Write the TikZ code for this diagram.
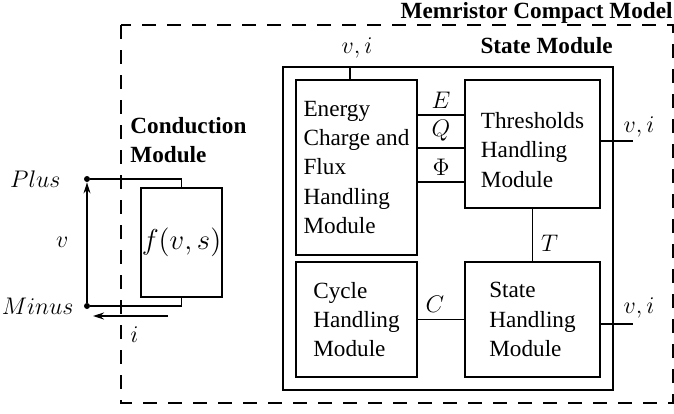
\documentclass[tikz,border=0pt]{standalone}
\usepackage{fontspec}
\setmainfont{Liberation Serif}
\usepackage{tikz}
\usetikzlibrary{arrows.meta, positioning, calc}

\begin{document}
\begin{tikzpicture}[x=0.5pt, y=-0.5pt,
  font=\fontsize{11.6}{14.65}\selectfont,
  modbox/.style={draw, line width=0.7pt, align=left, inner sep=0pt},
  boldtitle/.style={font=\fontsize{11.6}{14.65}\selectfont\bfseries, inner sep=0pt},
  wire/.style={line width=0.7pt},
  sig/.style={above, inner sep=3pt},
  term/.style={circle, fill, inner sep=0pt, minimum size=3pt},
  flow/.style={line width=0.7pt, -{Stealth[length=5.5pt, width=3.5pt]}}]
  \useasboundingbox (0,0) rectangle (674,413);

  \draw[line width=0.7pt, dash pattern=on 7pt off 5.5pt] (121,25) rectangle (673,403);
  \node[boldtitle, anchor=base east] (mcmtitle) at (673,18) {Memristor Compact Model};

  \node[modbox, minimum width=165pt, minimum height=161.5pt] (statebox) at (448,228.5) {};
  \node[boldtitle, anchor=base east] (statetitle) at (613,53) {State Module};

  \node[modbox, minimum width=60.5pt, minimum height=87.5pt] (energy) at (356.5,167.5) {Energy\\Charge and\\Flux\\Handling\\Module};
  \node[modbox, minimum width=67.5pt, minimum height=64pt] (thresh) at (532.5,144) {};
  \node[align=left, inner sep=0pt] (threshtext) at (532.5,150) {Thresholds\\Handling\\Module};
  \node[modbox, minimum width=60.5pt, minimum height=57.5pt] (cycle) at (356.5,319.5) {Cycle\\Handling\\Module};
  \node[modbox, minimum width=67.5pt, minimum height=57.5pt] (statehand) at (532.5,319.5) {State\\Handling\\Module};

  \node[anchor=base, inner sep=0pt] (vitop) at (357,53) {$v,i$};
  \draw[wire] (statebox.north -| 350,0) -- (energy.north -| 350,0);

  \draw[wire] (energy.east |- 0,115) -- (thresh.west |- 0,115) node[sig, midway] {$E$};
  \draw[wire] (energy.east |- 0,148) -- (thresh.west |- 0,148) node[sig, midway] {$Q$};
  \draw[wire] (energy.east |- 0,182) -- (thresh.west |- 0,182) node[sig, midway] {$\Phi$};
  \draw[wire] (thresh.south) -- (statehand.north) node[right, pos=0.65, inner sep=4pt] {$T$};
  \draw[wire] (cycle.east) -- (statehand.west) node[sig, midway, xshift=-3pt] {$C$};

  \coordinate (threshout) at (633,141);
  \coordinate (stateout) at (633,324);
  \draw[wire] (thresh.east |- threshout) -- (threshout);
  \draw[wire] (statehand.east |- stateout) -- (stateout);
  \node[anchor=base, inner sep=0pt] (vithresh) at (639,132) {$v,i$};
  \node[anchor=base, inner sep=0pt] (vistate) at (639,313) {$v,i$};

  \node[boldtitle, anchor=north west, align=left] (condtitle) at (130,117) {Conduction\\Module};
  \node[modbox, minimum width=40.5pt, minimum height=54.5pt, align=center, font=\fontsize{14}{16}\selectfont] (fbox) at (181.5,242.5) {$f(v,s)$};
  \node[term, label={[label distance=8pt]left:$Plus$}] (plus) at (87,179) {};
  \node[term, label={[label distance=1.5pt]left:$Minus$}] (minus) at (87,306) {};
  \draw[wire] (plus) -- (plus -| fbox.north) -- (fbox.north);
  \draw[wire] (fbox.south) -- (fbox.south |- minus) -- (minus);
  \draw[flow] (minus.north) -- (plus.south) node[midway, left=9pt, inner sep=0pt] {$v$};

  \coordinate (curstart) at (168,316);
  \coordinate (curend) at (93,316);
  \draw[flow] (curstart) -- (curend) node[midway, below=1.5pt, xshift=2pt] {$i$};
\end{tikzpicture}
\end{document}
